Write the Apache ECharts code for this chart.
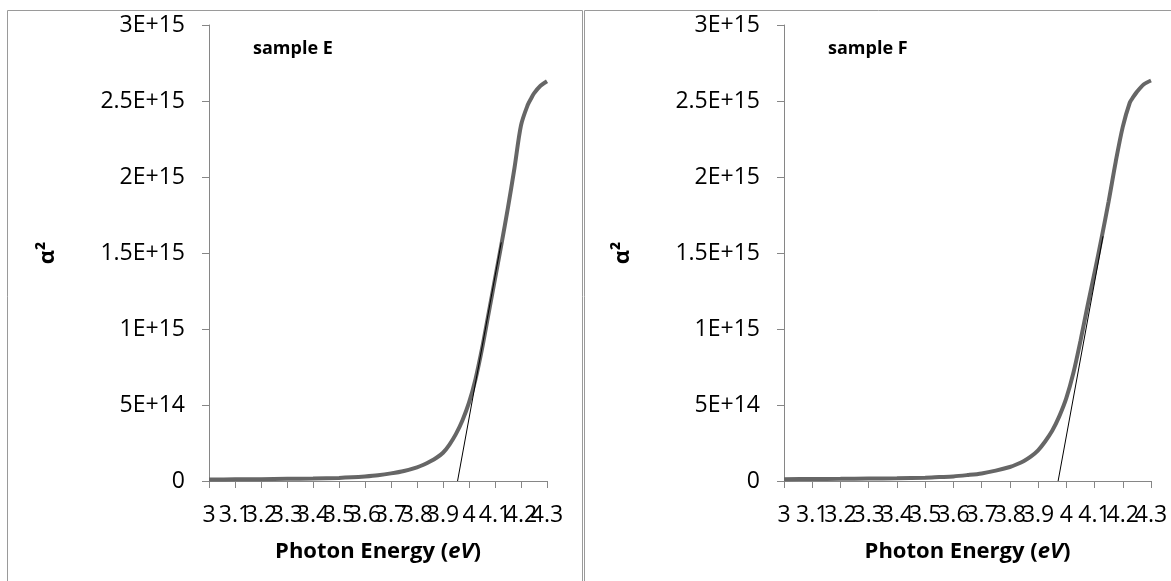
<!DOCTYPE html>
<html>
<head>
<meta charset="utf-8">
<script src="https://cdn.jsdelivr.net/npm/echarts@6/dist/echarts.min.js"></script>
<style>
  html, body { margin: 0; padding: 0; background: #fff; }
  #chart { width: 1171px; height: 581px; }
</style>
</head>
<body>
<div id="chart"></div>
<script>
// photon energy (eV) and alpha^2
const energyE = [3.0, 3.1, 3.2, 3.3, 3.4, 3.5, 3.55, 3.6, 3.65, 3.7, 3.75, 3.8, 3.825, 3.85, 3.875, 3.9, 3.925, 3.95, 3.975, 4.0, 4.025, 4.05, 4.075, 4.1, 4.125, 4.15, 4.175, 4.2, 4.225, 4.24, 4.25, 4.275, 4.3];
const alphaE = [1.0e13, 1.1e13, 1.2e13, 1.4e13, 1.6e13, 2.0e13, 2.4e13, 3.0e13, 3.8e13, 5.0e13, 6.6e13, 9.0e13, 1.07e14, 1.28e14, 1.53e14, 1.86e14, 2.4e14, 3.1e14, 4.0e14, 5.15e14, 6.7e14, 8.7e14, 1.10e15, 1.33e15, 1.56e15, 1.80e15, 2.06e15, 2.34e15, 2.47e15, 2.52e15, 2.55e15, 2.60e15, 2.63e15];

const energyF = [3.0, 3.1, 3.2, 3.3, 3.4, 3.5, 3.55, 3.6, 3.65, 3.7, 3.75, 3.8, 3.825, 3.85, 3.875, 3.9, 3.925, 3.95, 3.975, 4.0, 4.025, 4.05, 4.075, 4.1, 4.125, 4.15, 4.175, 4.2, 4.225, 4.235, 4.25, 4.275, 4.3];
const alphaF = [1.2e13, 1.3e13, 1.4e13, 1.6e13, 1.8e13, 2.2e13, 2.6e13, 3.0e13, 3.9e13, 5.0e13, 6.8e13, 9.2e13, 1.1e14, 1.32e14, 1.62e14, 2.02e14, 2.6e14, 3.3e14, 4.25e14, 5.45e14, 7.1e14, 9.2e14, 1.15e15, 1.37e15, 1.60e15, 1.84e15, 2.10e15, 2.33e15, 2.49e15, 2.52e15, 2.56e15, 2.61e15, 2.635e15];

// tangent lines (band-gap extrapolation)
const tangentE = [[3.956, 0], [4.124, 1.57e15]];
const tangentF = [[3.971, 0], [4.13, 1.61e15]];

// x tick labels (Excel prints every one of them, even where they overlap)
const xTicks = [3, 3.1, 3.2, 3.3, 3.4, 3.5, 3.6, 3.7, 3.8, 3.9, 4, 4.1, 4.2, 4.3];

const sampleNames = ['sample E', 'sample F'];
const xName = '{b|Photon Energy (}{bi|eV}{b|)}';
const yName = 'α²';

const FONT = '"Open Sans", sans-serif';
const FS = 23;
const AXIS_GRAY = '#868686';

function sciLabel(v) {
  if (v === 0) return '0';
  let e = Math.floor(Math.log10(v) + 1e-9);
  let m = +(v / Math.pow(10, e)).toFixed(2);
  return m + 'E+' + e;
}

function xAxisFor(gridIndex) {
  return {
    type: 'value', gridIndex: gridIndex,
    min: 3, max: 4.3, interval: 0.1,
    name: xName, nameLocation: 'middle', nameGap: 60,
    nameTextStyle: {
      rich: {
        b: { fontFamily: FONT, fontSize: 22, fontWeight: 'bold', color: '#000' },
        bi: { fontFamily: FONT, fontSize: 22, fontWeight: 'bold', fontStyle: 'italic', color: '#000' }
      }
    },
    axisLine: { show: true, onZero: false, lineStyle: { color: AXIS_GRAY, width: 1 } },
    axisTick: { show: true, inside: false, length: 7, lineStyle: { color: AXIS_GRAY } },
    axisLabel: { show: false },
    splitLine: { show: false }
  };
}

function yAxisFor(gridIndex) {
  return {
    type: 'value', gridIndex: gridIndex,
    min: 0, max: 3e15, interval: 5e14,
    name: yName, nameLocation: 'middle', nameGap: 150, nameRotate: 90,
    nameTextStyle: { fontFamily: FONT, fontSize: 22, fontWeight: 'bold', color: '#000' },
    axisLine: { show: true, lineStyle: { color: AXIS_GRAY, width: 1 } },
    axisTick: { show: true, inside: false, length: 7, lineStyle: { color: AXIS_GRAY } },
    axisLabel: {
      fontFamily: FONT, fontSize: FS, color: '#000', margin: 24,
      formatter: sciLabel
    },
    splitLine: { show: false }
  };
}

function curve(xs, ys, idx) {
  return {
    type: 'line', xAxisIndex: idx, yAxisIndex: idx,
    data: xs.map((x, i) => [x, ys[i]]),
    showSymbol: false, smooth: 0.3,
    lineStyle: { color: '#666666', width: 4 },
    z: 2
  };
}

function tangent(pts, idx) {
  return {
    type: 'line', xAxisIndex: idx, yAxisIndex: idx,
    data: pts, showSymbol: false,
    lineStyle: { color: '#000', width: 1 },
    z: 3
  };
}

const frames = [
  { type: 'rect', shape: { x: 7.5, y: 10.5, width: 575, height: 620 }, style: { fill: null, stroke: '#9a9a9a', lineWidth: 1 }, silent: true },
  { type: 'rect', shape: { x: 584.5, y: 10.5, width: 620, height: 620 }, style: { fill: null, stroke: '#9a9a9a', lineWidth: 1 }, silent: true }
];

const chart = echarts.init(document.getElementById('chart'));
chart.setOption({
  animation: false,
  backgroundColor: '#fff',
  grid: [
    { left: 209, top: 25, width: 338, height: 456 },
    { left: 784, top: 25, width: 367, height: 456 }
  ],
  title: [
    { text: sampleNames[0], left: 248, top: 35, textStyle: { fontFamily: FONT, fontSize: 18, fontWeight: 'bold', color: '#000' } },
    { text: sampleNames[1], left: 823, top: 35, textStyle: { fontFamily: FONT, fontSize: 18, fontWeight: 'bold', color: '#000' } }
  ],
  graphic: frames,
  xAxis: [xAxisFor(0), xAxisFor(1)],
  yAxis: [yAxisFor(0), yAxisFor(1)],
  series: [
    curve(energyE, alphaE, 0),
    tangent(tangentE, 0),
    curve(energyF, alphaF, 1),
    tangent(tangentF, 1)
  ]
});

// place x tick labels through the axis scale so none get dropped
const tickTexts = [];
[0, 1].forEach(idx => {
  xTicks.forEach(t => {
    const p = chart.convertToPixel({ xAxisIndex: idx, yAxisIndex: idx }, [t, 0]);
    tickTexts.push({
      type: 'text', silent: true, z: 10,
      style: {
        text: String(t), x: p[0], y: p[1] + 34,
        align: 'center', verticalAlign: 'middle',
        font: FS + 'px "Open Sans", sans-serif', fill: '#000'
      }
    });
  });
});
chart.setOption({ graphic: frames.concat(tickTexts) });
</script>
</body>
</html>
